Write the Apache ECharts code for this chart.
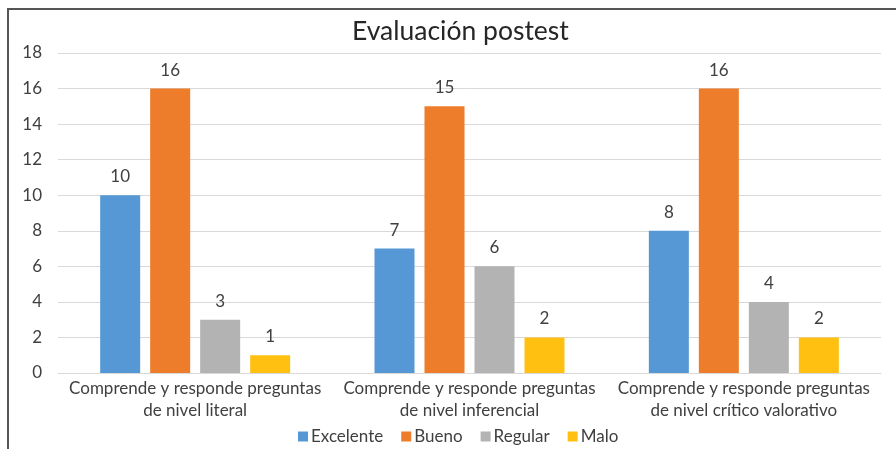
<!DOCTYPE html>
<html>
<head>
<meta charset="utf-8">
<script src="https://cdn.jsdelivr.net/npm/echarts@6/dist/echarts.min.js"></script>
<style>
  html, body { margin: 0; padding: 0; background: #fff; }
  #chart { width: 896px; height: 449px; }
</style>
</head>
<body>
<div id="chart"></div>
<script>
// datos del gráfico
var categorias = [
    'Comprende y responde preguntas\nde nivel literal',
    'Comprende y responde preguntas\nde nivel inferencial',
    'Comprende y responde preguntas\nde nivel crítico valorativo'
];
var excelente = [10, 7, 8];
var bueno = [16, 15, 16];
var regular = [3, 6, 4];
var malo = [1, 2, 2];

var colores = ['#5698D5', '#ED7D2B', '#B3B3B3', '#FFC012'];
var fuente = 'Lato';

var chart = echarts.init(document.getElementById('chart'));

function serie(nombre, datos) {
    return {
        name: nombre,
        type: 'bar',
        data: datos,
        barWidth: 40,
        barGap: '25%',
        label: {
            show: true,
            position: 'top',
            distance: 10,
            color: '#404040',
            fontSize: 17,
            fontFamily: fuente
        }
    };
}

chart.setOption({
    animation: false,
    color: colores,
    title: {
        text: 'Evaluación postest',
        left: 347,
        top: 13,
        textStyle: { fontFamily: fuente, fontWeight: 'normal', fontSize: 26.5, color: '#262626' }
    },
    graphic: [{
        type: 'rect',
        shape: { x: 8, y: 9, width: 900, height: 460 },
        style: { fill: 'none', stroke: '#555555', lineWidth: 2 },
        silent: true
    }],
    legend: {
        bottom: -1,
        left: 293,
        itemWidth: 10,
        itemHeight: 10,
        itemGap: 18,
        itemStyle: { borderWidth: 0 },
        icon: 'rect',
        textStyle: { fontFamily: fuente, fontSize: 17, color: '#404040', padding: [0, 0, 0, -2] },
        data: ['Excelente', 'Bueno', 'Regular', 'Malo']
    },
    grid: { left: 58, right: 15, top: 53, bottom: 76 },
    xAxis: {
        type: 'category',
        data: categorias,
        axisTick: { show: false },
        axisLine: { lineStyle: { color: '#d9d9d9', width: 1 } },
        axisLabel: {
            interval: 0,
            margin: 5,
            fontFamily: fuente,
            fontSize: 17,
            lineHeight: 22,
            color: '#404040'
        }
    },
    yAxis: {
        type: 'value',
        min: 0,
        max: 18,
        interval: 2,
        axisLine: { show: false },
        axisTick: { show: false },
        splitLine: { lineStyle: { color: '#d9d9d9', width: 1 } },
        axisLabel: { fontFamily: fuente, fontSize: 17, color: '#404040', margin: 16 }
    },
    series: [
        serie('Excelente', excelente),
        serie('Bueno', bueno),
        serie('Regular', regular),
        serie('Malo', malo)
    ]
});
</script>
</body>
</html>
